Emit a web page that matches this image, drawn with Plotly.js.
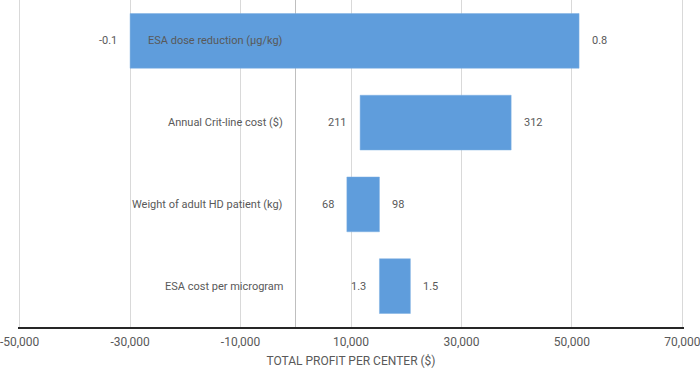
<!DOCTYPE html>
<html>
<head>
<meta charset="utf-8">
<script src="https://cdn.plot.ly/plotly-3.0.1.min.js"></script>
<style>
  html, body { margin: 0; padding: 0; background: #ffffff; }
  #chart { width: 700px; height: 368px; }
</style>
</head>
<body>
<div id="chart"></div>
<script>
// One-way sensitivity of total profit per center
const parameters = [
  "ESA dose reduction (µg/kg)",
  "Annual Crit-line cost ($)",
  "Weight of adult HD patient (kg)",
  "ESA cost per microgram"
];
const profitLow  = [-30000, 11650, 9250, 15150];   // profit at the left end of each bar
const profitHigh = [51300, 39000, 15150, 20750];   // profit at the right end of each bar
const labelLeft  = ["-0.1", "211", "68", "1.3"];
const labelRight = ["0.8", "312", "98", "1.5"];

const tickValues = [-50000, -30000, -10000, 10000, 30000, 50000, 70000];
const tickLabels = ["-50,000", "-30,000", "-10,000", "10,000", "30,000", "50,000", "70,000"];

const textColor = "#595959";
const labelFont = { family: "Roboto, 'Liberation Sans', sans-serif", size: 11, color: textColor };

const trace = {
  type: "bar",
  orientation: "h",
  y: parameters,
  base: profitLow,
  x: profitHigh.map((h, i) => h - profitLow[i]),
  marker: { color: "#5f9ddc", line: { color: "#7eb0e3", width: 0.5 } },
  hoverinfo: "skip"
};

const annotations = [];
parameters.forEach((p, i) => {
  annotations.push({
    x: profitLow[i], y: p, xref: "x", yref: "y",
    text: labelLeft[i], showarrow: false, xanchor: "right", xshift: -11,
    font: labelFont
  });
  annotations.push({
    x: profitHigh[i], y: p, xref: "x", yref: "y",
    text: labelRight[i], showarrow: false, xanchor: "left", xshift: 11,
    font: labelFont
  });
  // parameter name sits just left of the zero line
  annotations.push({
    x: 0, y: p, xref: "x", yref: "y",
    text: p, showarrow: false, xanchor: "right", xshift: -11,
    font: labelFont
  });
});

const layout = {
  width: 700,
  height: 368,
  margin: { l: 18, r: 16, t: 0, b: 41 },
  paper_bgcolor: "#ffffff",
  plot_bgcolor: "#ffffff",
  showlegend: false,
  bargap: 0.33,
  xaxis: {
    range: [-50300, 70300],
    tickvals: tickValues,
    ticktext: tickLabels,
    ticklabeloverflow: "allow",
    showgrid: true,
    gridcolor: "#d9d9d9",
    gridwidth: 1,
    zeroline: true,
    zerolinecolor: "#bfbfbf",
    zerolinewidth: 1,
    showline: true,
    linecolor: "#262626",
    linewidth: 1.5,
    ticks: "",
    ticklabelstandoff: 3,
    tickfont: { family: "Roboto, sans-serif", size: 12, color: textColor },
    title: {
      text: "TOTAL PROFIT PER CENTER ($)",
      font: { family: "Roboto, sans-serif", size: 12, color: textColor },
      standoff: 8
    },
    fixedrange: true
  },
  yaxis: {
    type: "category",
    autorange: "reversed",
    showticklabels: false,
    showgrid: false,
    zeroline: false,
    ticks: "",
    fixedrange: true
  },
  annotations: annotations
};

Plotly.newPlot("chart", [trace], layout, { displayModeBar: false, staticPlot: true });
</script>
</body>
</html>
